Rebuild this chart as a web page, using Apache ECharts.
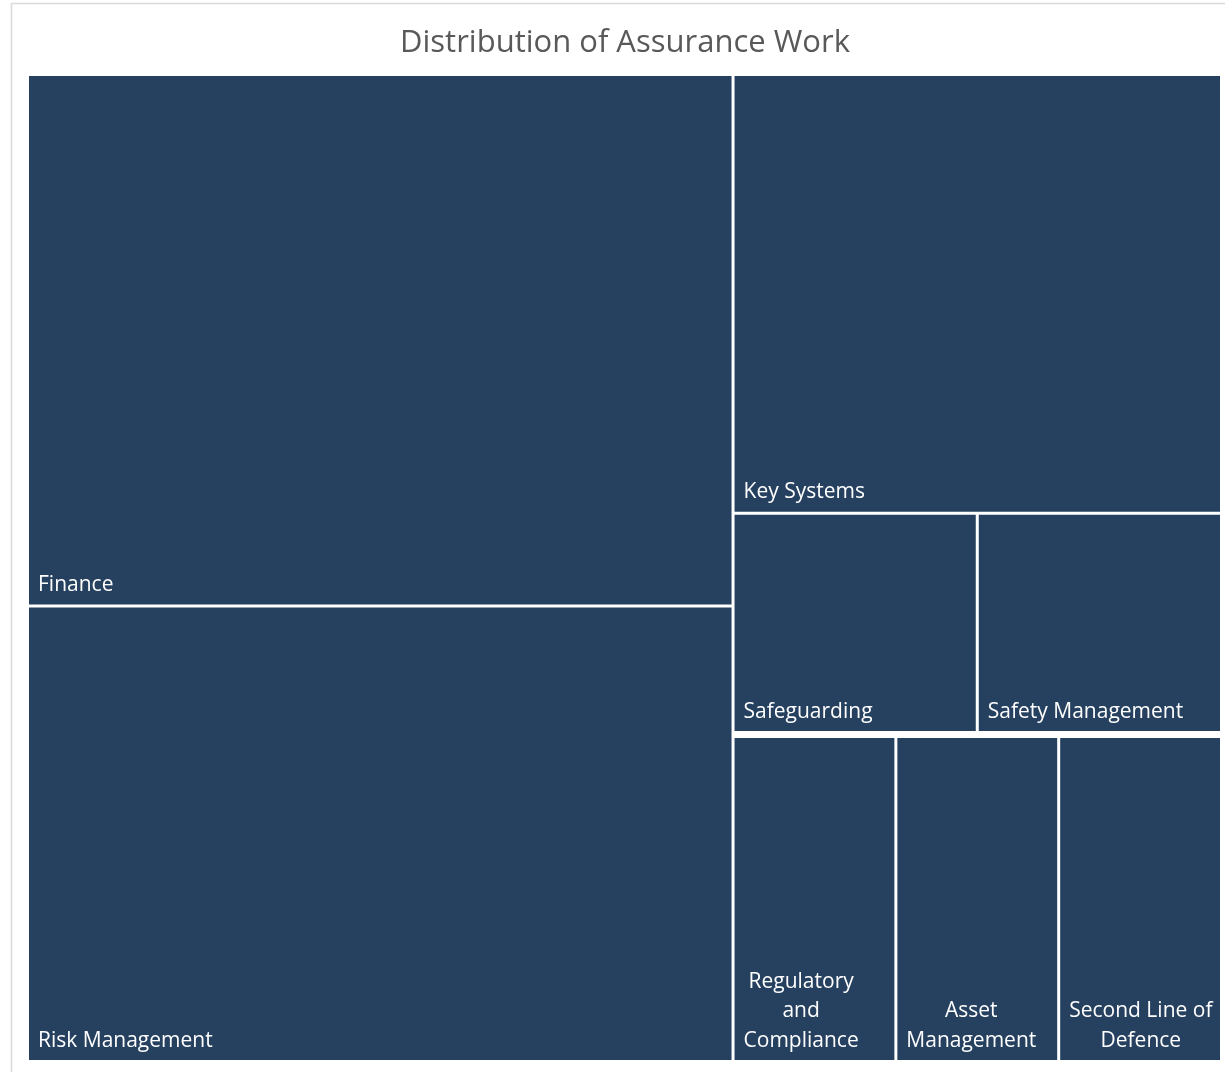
<!DOCTYPE html>
<html>
<head>
<meta charset="utf-8">
<script src="https://cdn.jsdelivr.net/npm/echarts@6/dist/echarts.min.js"></script>
<style>
html,body{margin:0;padding:0;background:#fff;}
#chart{width:1225px;height:1072px;}
</style>
</head>
<body>
<div id="chart"></div>
<script>
// ---- data ----
const chartTitle = 'Distribution of Assurance Work';
const categories = ['Finance', 'Risk Management', 'Key Systems', 'Safeguarding', 'Safety Management',
  'Regulatory and Compliance', 'Asset Management', 'Second Line of Defence'];
const values = [7, 6, 4, 1, 1, 1, 1, 1];
const labelLines = ['Finance', 'Risk Management', 'Key Systems', 'Safeguarding', 'Safety Management',
  'Regulatory\nand\nCompliance', 'Asset\nManagement', 'Second Line of\nDefence'];
// the last three tiles share one row (grouped so the layout keeps them side by side)
const bottomRow = [5, 6, 7];

// ---- style ----
const NAVY = '#26405F';
const FONT = 'Open Sans';
const FS = 21, LH = 29.5, PADL = 9, PADB = 4.5;

const ctx = document.createElement('canvas').getContext('2d');
ctx.font = FS + 'px "' + FONT + '"';
function blockWidth(t) {
  return Math.max.apply(null, t.split('\n').map(s => ctx.measureText(s).width));
}

function leaf(i) {
  const wrapped = labelLines[i].indexOf('\n') >= 0;
  const txt = labelLines[i];
  return {
    name: categories[i],
    value: values[i],
    itemStyle: { color: NAVY },
    label: wrapped
      ? { position: [PADL + blockWidth(txt) / 2, '100%'], align: 'center', verticalAlign: 'bottom',
          padding: [0, 0, PADB, 0], overflow: 'none', formatter: () => txt }
      : { position: 'insideBottomLeft', formatter: () => txt }
  };
}

const data = [];
for (let i = 0; i < categories.length; i++) {
  if (bottomRow.indexOf(i) < 0) data.push(leaf(i));
}
data.push({
  name: '',
  itemStyle: { borderColor: '#fff', borderWidth: 0, gapWidth: 3 },
  upperLabel: { show: true, height: 4, color: 'rgba(0,0,0,0)', formatter: () => '' },
  children: bottomRow.map(leaf)
});

const chart = echarts.init(document.getElementById('chart'));
chart.setOption({
  animation: false,
  backgroundColor: '#fff',
  title: {
    text: chartTitle,
    left: 625,
    top: 28,
    textAlign: 'center',
    padding: 0,
    textStyle: { fontFamily: FONT, fontSize: 31, fontWeight: 'normal', color: '#595959' }
  },
  graphic: [{
    type: 'rect', silent: true, z: -10,
    shape: { x: 11.5, y: 3.5, width: 1260, height: 1100 },
    style: { fill: 'none', stroke: '#dadada', lineWidth: 1.6 }
  }],
  series: [{
    type: 'treemap',
    left: 29, top: 76, width: 1191, height: 984,
    roam: false,
    nodeClick: false,
    breadcrumb: { show: false },
    sort: false,
    squareRatio: 0.9,
    levels: [{ color: [NAVY] }],
    itemStyle: { borderWidth: 0, gapWidth: 3, borderColor: '#fff' },
    upperLabel: { show: false },
    label: {
      show: true, color: '#fff', fontFamily: FONT, fontSize: FS, lineHeight: LH,
      distance: 0, padding: [0, PADL, PADB, PADL], overflow: 'truncate'
    },
    data: data
  }]
});
</script>
</body>
</html>
